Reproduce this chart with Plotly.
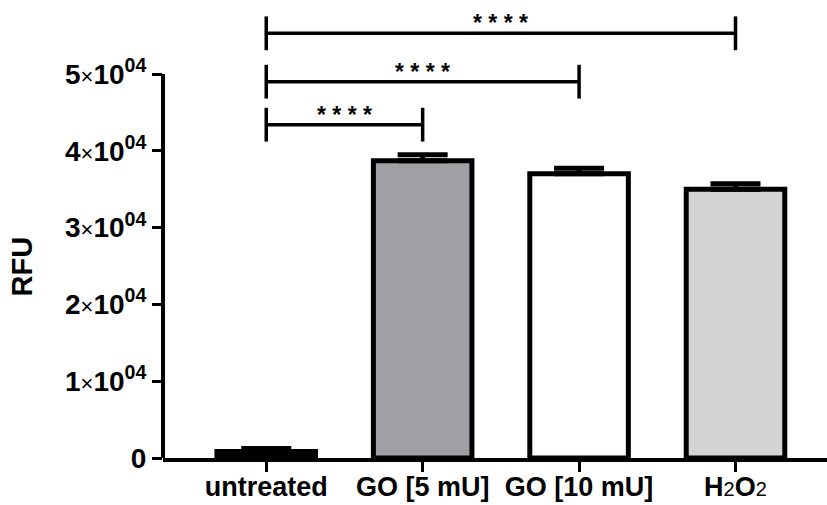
import plotly.graph_objects as go

# ---- data ----
categories = ["untreated", "GO [5 mU]", "GO [10 mU]",
              "H<span style='font-size:20px;font-weight:normal'>2</span>O<span style='font-size:20px;font-weight:normal'>2</span>"]
means = [850, 38700, 37000, 35000]
sds = [390, 780, 720, 720]
bar_colors = ["#000000", "#a0a0a4", "#ffffff", "#d4d4d4"]

y_tickvals = [0, 10000, 20000, 30000, 40000, 50000]
y_ticktext = ["0"] + [f"{k}<span style='font-weight:normal;font-size:22px'>×</span>10<sup>04</sup>" for k in range(1, 6)]

bracket_pairs = [(0, 3), (0, 2), (0, 1)]
bracket_y = [55300, 49000, 43400]
bracket_labels = ["* * * *", "* * * *", "* * * *"]
bracket_tick = 2200

FONT = "Liberation Sans, Arial, Helvetica, sans-serif"
xpos = list(range(len(categories)))

fig = go.Figure()
fig.add_trace(go.Bar(
    x=xpos, y=means, width=0.63,
    marker=dict(color=bar_colors, line=dict(color="black", width=5)),
    error_y=dict(type="data", array=sds, arrayminus=[0] * len(sds), symmetric=False,
                 thickness=5, width=25, color="black"),
    showlegend=False,
))

for (a, b), yy, lab in zip(bracket_pairs, bracket_y, bracket_labels):
    fig.add_trace(go.Scatter(
        x=[a, a, None, a, b, None, b, b],
        y=[yy - bracket_tick, yy + bracket_tick, None, yy, yy, None, yy - bracket_tick, yy + bracket_tick],
        mode="lines", line=dict(color="black", width=3.5), showlegend=False, hoverinfo="skip",
    ))
    fig.add_annotation(x=(a + b) / 2, y=yy, text=lab, showarrow=False,
                       yanchor="middle", yshift=10,
                       font=dict(family=FONT, size=23, color="black", weight="bold"))

# y axis line only spanning 0..5e4
fig.add_shape(type="line", xref="paper", yref="y", x0=0, x1=0, y0=0, y1=50000,
              line=dict(color="black", width=4))

fig.add_annotation(xref="paper", yref="y", x=-0.2116, y=25000, text="RFU", textangle=-90,
                   showarrow=False, xanchor="center", yanchor="middle",
                   font=dict(family=FONT, size=29, color="black", weight="bold"))

fig.update_layout(
    width=827, height=505,
    margin=dict(l=163, r=0, t=10, b=47),
    plot_bgcolor="white", paper_bgcolor="white",
    font=dict(family=FONT, color="black"),
)
fig.update_xaxes(
    range=[-0.66, 3.585], tickvals=xpos, ticktext=categories, automargin=False,
    showline=True, linecolor="black", linewidth=4,
    ticks="outside", ticklen=10, tickwidth=3, tickcolor="black",
    ticklabelstandoff=-8,
    showgrid=False, zeroline=False,
    tickfont=dict(family=FONT, size=27, color="black", weight="bold"),
)
fig.update_yaxes(
    range=[0, 58333], tickvals=y_tickvals, ticktext=y_ticktext, automargin=False,
    showline=False, ticks="outside", ticklen=10, tickwidth=3, tickcolor="black",
    showgrid=False, zeroline=False,
    tickfont=dict(family=FONT, size=28, color="black", weight="bold"),
)

fig.write_html("out.html")
